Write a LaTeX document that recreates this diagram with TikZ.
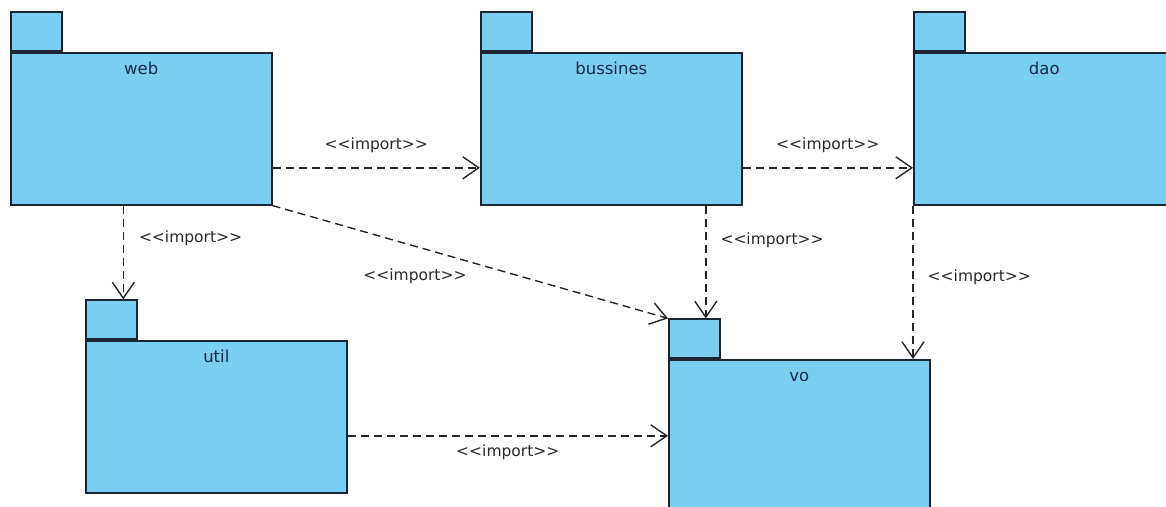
\documentclass[tikz,border=0pt]{standalone}
\usepackage{fontspec}
\setmainfont{DejaVu Sans}
\usepackage{tikz}
\usetikzlibrary{positioning,calc,arrows.meta}

\definecolor{pkgfill}{RGB}{122,206,242}
\definecolor{pkgline}{RGB}{28,38,50}
\definecolor{pkgtext}{RGB}{24,40,72}
\definecolor{deptext}{RGB}{40,40,40}

\begin{document}
\begin{tikzpicture}[x=1pt, y=-1pt,
    pkg body/.style={rectangle, draw=pkgline, line width=1.6pt, fill=pkgfill, minimum width=261pt, minimum height=152pt, inner sep=0pt, anchor=north west},
    pkg tab/.style={rectangle, draw=pkgline, line width=1.6pt, fill=pkgfill, minimum width=51pt, minimum height=39pt, inner sep=0pt, anchor=south west},
    pkg name/.style={inner sep=0pt, text height=11pt, text depth=3pt, text=pkgtext, font=\fontsize{16.5}{19}\selectfont},
    imp label/.style={inner sep=0pt, text=deptext, font=\fontsize{15.5}{18}\selectfont},
    imp arrow/.style={draw=black!85, line width=1.4pt, dash pattern=on 8pt off 5pt, -{Straight Barb[length=16pt,width=22pt,line width=1.4pt]}}]

    \useasboundingbox (0,0) rectangle (1166,506);
    \clip (0,0) rectangle (1166,506);

    % packages
    \node [pkg body] (web) at (10,52) {};
    \node [pkg tab] (webtab) at (web.north west) {};
    \node [pkg name, below=11pt of web.north] (webname) {web};

    \node [pkg body] (bussines) at (480,52) {};
    \node [pkg tab] (bussinestab) at (bussines.north west) {};
    \node [pkg name, below=11pt of bussines.north] (bussinesname) {bussines};

    \node [pkg body] (dao) at (913,52) {};
    \node [pkg tab] (daotab) at (dao.north west) {};
    \node [pkg name, below=11pt of dao.north] (daoname) {dao};

    \node [pkg body] (util) at (85,340) {};
    \node [pkg tab] (utiltab) at (util.north west) {};
    \node [pkg name, below=11pt of util.north] (utilname) {util};

    \node [pkg body] (vo) at (668,359) {};
    \node [pkg tab] (votab) at (vo.north west) {};
    \node [pkg name, below=11pt of vo.north] (voname) {vo};

    % dependencies
    \draw [imp arrow] ([yshift=-39pt]web.east) -- node [imp label, above=14pt] {<{}<import>{}>} ([yshift=-39pt]bussines.west);
    \draw [imp arrow] ([yshift=-39pt]bussines.east) -- node [imp label, above=14pt] {<{}<import>{}>} ([yshift=-39pt]dao.west);
    \draw [imp arrow] ([xshift=-18pt]web.south) -- node [imp label, pos=0.35, right=15pt] {<{}<import>{}>} ([xshift=-18pt]web.south |- utiltab.north);
    \draw [imp arrow] (web.south east) -- node [imp label, pos=0.36, below=22pt] {<{}<import>{}>} (votab.north west);
    \draw [imp arrow] ([xshift=94.5pt]bussines.south) -- node [imp label, pos=0.31, right=14pt] {<{}<import>{}>} ([xshift=94.5pt]bussines.south |- votab.north);
    \draw [imp arrow] (dao.south west) -- node [imp label, pos=0.47, right=14pt] {<{}<import>{}>} (dao.south west |- vo.north);
    \draw [imp arrow] (vo.west -| util.east) -- node [imp label, below=8pt] {<{}<import>{}>} (vo.west);

\end{tikzpicture}
\end{document}
